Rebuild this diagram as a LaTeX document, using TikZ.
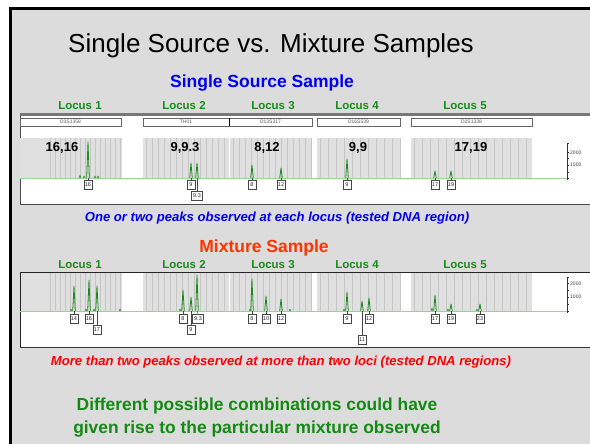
\documentclass[tikz,border=0pt]{standalone}
\usepackage{fontspec}
\setmainfont{Liberation Sans}
\definecolor{slide}{HTML}{DCDCDC}
\definecolor{bin}{HTML}{E0E0E0}
\definecolor{binline}{HTML}{C6C6C6}
\definecolor{peak}{HTML}{1E8A1E}
\definecolor{basegreen}{HTML}{9AD29A}
\definecolor{locusgreen}{HTML}{1A8C1A}
\definecolor{titleblue}{HTML}{0000F0}
\definecolor{mixorange}{HTML}{FF3300}
\definecolor{capred}{HTML}{FF0000}
\definecolor{msggreen}{HTML}{148A14}
\definecolor{frame}{HTML}{555555}
\begin{document}
\begin{tikzpicture}[x=1pt,y=-1pt,
  locus/.style={font=\bfseries\fontsize{11.5}{12}\selectfont, text=locusgreen, inner sep=0, anchor=base},
  pair/.style={font=\bfseries\fontsize{13}{14}\selectfont, inner sep=0, anchor=base},
  markerbox/.style={draw=gray!80!black, fill=white, line width=0.7pt, minimum height=8pt, inner sep=0, font=\fontsize{5}{6}\selectfont, text=gray!70!black},
  allelebox/.style={draw=gray!55!black, fill=white, line width=0.6pt, minimum width=8pt, minimum height=9pt, inner sep=0.7pt, font=\fontsize{5.5}{6}\selectfont, text=gray!30!black},
  peakline/.style={draw=peak, line width=0.8pt, line join=round},
  leader/.style={draw=gray!55!black, line width=0.5pt},
  axislabel/.style={font=\fontsize{5}{6}\selectfont, text=gray!50!black, inner sep=0, anchor=west},
  caption/.style={font=\bfseries\itshape\fontsize{13.1}{15}\selectfont, inner sep=0, anchor=base},
  message/.style={inner sep=0, anchor=base, font=\bfseries\fontsize{17.4}{20}\selectfont, text=msggreen}
]
\useasboundingbox (0,0) rectangle (590,444);
\clip (0,0) rectangle (590,444);

% slide background with heavy border
\fill[white] (0,0) rectangle (590,444);
\filldraw[fill=slide, draw=black, line width=2.6pt] (10.5,8.5) rectangle (600,460);

% titles
\node[inner sep=0, anchor=base, font=\fontsize{26}{30}\selectfont] (title) at (271,53) {Single Source vs. Mixture Samples};
\node[inner sep=0, anchor=base, font=\bfseries\fontsize{17.5}{20}\selectfont, text=titleblue] (sstitle) at (262,88) {Single Source Sample};

% ---------- single source electropherogram ----------
\fill[white] (20,113) rectangle (600,204.5);
\draw[gray!60!black, line width=0.8pt] (20,204.5) -- (20,113) -- (600,113);
\fill[frame!80] (20,113) rectangle (600,116.5);
\draw[gray!60!black, line width=0.8pt] (20,204.5) -- (600,204.5);

% shaded size bins
\foreach \a/\b in {20/122,143/229,229.8/312,317/400,411/532}
  \fill[bin] (\a,138) rectangle (\b,178);
\foreach \a/\b/\s in {50/121/5,146/229/6,233/311/6,320/400/8,414/532/8}{
  \pgfmathsetmacro\nx{\a+\s}
  \foreach \x in {\a,\nx,...,\b}
    \draw[binline, line width=0.6pt] (\x,138) -- (\x,178);
}
\draw[basegreen, line width=1pt] (20,178) -- (567,178);

% marker name boxes
\node[markerbox, minimum width=101pt] (mk1) at (70.5,122) {D3S1358};
\node[markerbox, minimum width=86pt] (mk2) at (186,122) {TH01};
\node[markerbox, minimum width=83pt] (mk3) at (270.5,122) {D13S317};
\node[markerbox, minimum width=83pt] (mk4) at (358.5,122) {D16S539};
\node[markerbox, minimum width=121pt] (mk5) at (471.5,122) {D2S1338};
\draw[black, line width=1.2pt] (229.5,118) -- (229.5,126);

% locus captions
\node[locus] (sl1) at (80,110) {Locus 1};
\node[locus] (sl2) at (184,110) {Locus 2};
\node[locus] (sl3) at (273,110) {Locus 3};
\node[locus] (sl4) at (357,110) {Locus 4};
\node[locus] (sl5) at (465,110) {Locus 5};

% genotype calls
\node[pair] (g1) at (62,152) {16,16};
\node[pair] (g2) at (185,152) {9,9.3};
\node[pair] (g3) at (267,152) {8,12};
\node[pair] (g4) at (358,152) {9,9};
\node[pair] (g5) at (471,152) {17,19};

% peaks
\foreach \x/\t in {88/142,191/163,197/163,252/165,281/168,347/159,435/171,451/171}
  \draw[peakline] (\x-1.3,178) -- (\x,\t) -- (\x+1.3,178);
\foreach \x/\t in {80/175,95/176,84/176,98/176}
  \draw[peakline, line width=0.6pt] (\x-1,178) -- (\x,\t) -- (\x+1,178);

% allele call boxes
\coordinate (sb1) at (88,178);
\coordinate (sb2) at (191,178);
\coordinate (sb3) at (197,178);
\coordinate (sb4) at (252,178);
\coordinate (sb5) at (281,178);
\coordinate (sb6) at (347,178);
\coordinate (sb7) at (435,178);
\coordinate (sb8) at (451,178);
\node[allelebox] (sa1) at (88,184.5) {16};
\node[allelebox] (sa2) at (191,184.5) {9};
\node[allelebox, minimum width=11pt] (sa3) at (197,196) {9.3};
\node[allelebox] (sa4) at (252,184.5) {8};
\node[allelebox] (sa5) at (281,184.5) {12};
\node[allelebox] (sa6) at (347,184.5) {9};
\node[allelebox] (sa7) at (435,184.5) {17};
\node[allelebox] (sa8) at (451,184.5) {19};
\foreach \i in {1,2,4,5,6,7,8}
  \draw[leader] (sb\i) -- (sa\i.north);
\draw[leader] (sb3) -- (sa3.north);

% intensity scale
\draw[gray!40!black, line width=0.6pt] (567,143) -- (567,180);
\foreach \y in {143,152,158,165,172,178}
  \draw[gray!40!black, line width=0.5pt] (567,\y) -- (569,\y);
\node[axislabel] (sy2) at (570,152.5) {2000};
\node[axislabel] (sy1) at (570,165) {1000};

\node[caption, text=titleblue] (scap) at (277,222) {One or two peaks observed at each locus (tested DNA region)};

% ---------- mixture electropherogram ----------
\node[inner sep=0, anchor=base, font=\bfseries\fontsize{17.5}{20}\selectfont, text=mixorange] (mxtitle) at (264,252) {Mixture Sample};

\fill[white] (20,272) rectangle (600,347);
\foreach \a/\b in {20/122,143/229,229.8/311,317/400,411/532}
  \fill[bin] (\a,272) rectangle (\b,311);
\foreach \a/\b/\s in {50/121/5,146/229/6,233/311/6,320/400/8,414/532/8}{
  \pgfmathsetmacro\nx{\a+\s}
  \foreach \x in {\a,\nx,...,\b}
    \draw[binline, line width=0.6pt] (\x,272) -- (\x,311);
}
\draw[gray!30!black, line width=0.9pt] (20,347) -- (20,272) -- (600,272);
\draw[gray!40!black, line width=0.8pt] (20,347) -- (600,347);
\draw[basegreen, line width=1pt] (20,311) -- (567,311);

\node[locus] (ml1) at (80,268) {Locus 1};
\node[locus] (ml2) at (184,268) {Locus 2};
\node[locus] (ml3) at (273,268) {Locus 3};
\node[locus] (ml4) at (357,268) {Locus 4};
\node[locus] (ml5) at (465,268) {Locus 5};

\foreach \x/\t in {74/286,89/280,97/286,183/290,191/297,197/275,252/279,266/296,281/299,347/292,362/301,369/298,435/295,451/304,480/304}
  \draw[peakline] (\x-1.3,311) -- (\x,\t) -- (\x+1.3,311);
\foreach \x/\t in {71/309,86/309,94/309,180/309,250/309,344/309,432/308,448/309,477/309,120/309,290/309}
  \draw[peakline, line width=0.5pt] (\x-1,311) -- (\x,\t) -- (\x+1,311);

\coordinate (mb1) at (74,311);
\coordinate (mb2) at (89,311);
\coordinate (mb3) at (97,311);
\coordinate (mb4) at (183,311);
\coordinate (mb5) at (191,311);
\coordinate (mb6) at (197,311);
\coordinate (mb7) at (252,311);
\coordinate (mb8) at (266,311);
\coordinate (mb9) at (281,311);
\coordinate (mb10) at (347,311);
\coordinate (mb11) at (362,311);
\coordinate (mb12) at (369,311);
\coordinate (mb13) at (435,311);
\coordinate (mb14) at (451,311);
\coordinate (mb15) at (480,311);
\node[allelebox] (ma1) at (74,318.5) {14};
\node[allelebox] (ma2) at (89,318.5) {16};
\node[allelebox] (ma3) at (97,329.5) {17};
\node[allelebox] (ma4) at (183,318.5) {8};
\node[allelebox] (ma5) at (191,330) {9};
\node[allelebox, minimum width=11pt] (ma6) at (198,318.5) {9.3};
\node[allelebox] (ma7) at (252,318.5) {8};
\node[allelebox] (ma8) at (266,318.5) {10};
\node[allelebox] (ma9) at (281,318.5) {12};
\node[allelebox] (ma10) at (347,318.5) {9};
\node[allelebox] (ma11) at (362,340) {11};
\node[allelebox] (ma12) at (369,318.5) {12};
\node[allelebox] (ma13) at (435,318.5) {17};
\node[allelebox] (ma14) at (451,318.5) {19};
\node[allelebox] (ma15) at (480,318.5) {23};
\foreach \i in {1,...,15}
  \draw[leader] (mb\i) -- (ma\i.north);

\draw[gray!40!black, line width=0.6pt] (567,277) -- (567,313);
\foreach \y in {277,283,290,297,304,311}
  \draw[gray!40!black, line width=0.5pt] (567,\y) -- (569,\y);
\node[axislabel] (my2) at (570,283.5) {2000};
\node[axislabel] (my1) at (570,297) {1000};

\node[caption, text=capred] (mcap) at (281,365) {More than two peaks observed at more than two loci (tested DNA regions)};

% conclusion
\node[message] (c1) at (257,410) {Different possible combinations could have};
\node[message] (c2) at (257,433) {given rise to the particular mixture observed};
\end{tikzpicture}
\end{document}
